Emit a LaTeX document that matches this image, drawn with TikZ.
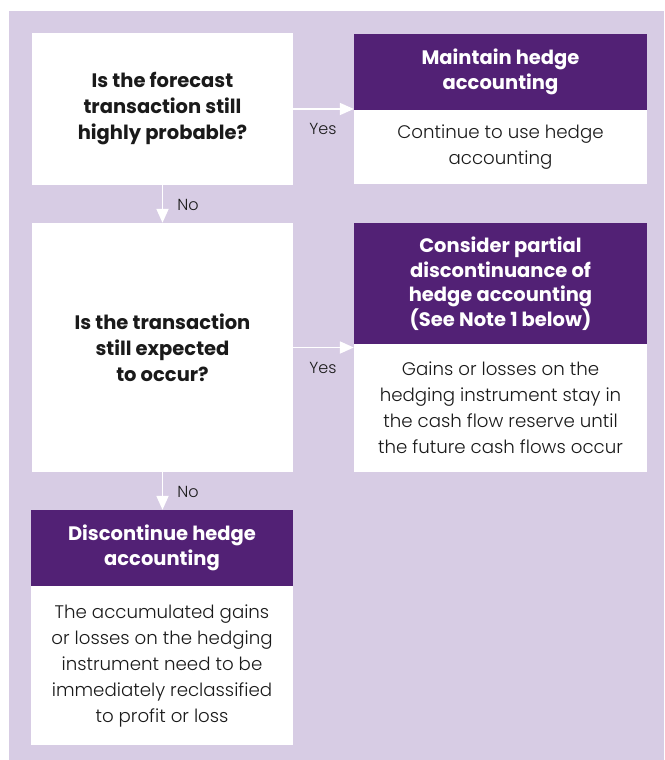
\documentclass[tikz,border=0pt]{standalone}
\usepackage{fontspec}
\setmainfont{Poppins}
\newfontfamily\lightfont{Poppins Light}
\usetikzlibrary{arrows.meta,calc}
\definecolor{lav}{HTML}{D7CCE4}
\definecolor{plum}{HTML}{522175}
\definecolor{ink}{HTML}{1A1A1A}
\tikzset{
  qbox/.style={fill=white,inner sep=0pt,align=center,text=ink,font=\fontsize{19.5}{26}\selectfont\bfseries},
  headbox/.style={fill=plum,inner sep=0pt,align=center,text=white,font=\fontsize{19.5}{24.5}\selectfont\bfseries},
  bodybox/.style={fill=white,inner sep=0pt,align=center,text=ink,font=\lightfont\fontsize{18.2}{26}\selectfont},
  flow/.style={draw=white,line width=1.8pt,-{Triangle[length=14pt,width=12pt]}},
  lbl/.style={text=ink,font=\lightfont\fontsize{16}{18}\selectfont,inner sep=0pt}
}
\begin{document}
\begin{tikzpicture}[x=1pt,y=-1pt]
\useasboundingbox (0,0) rectangle (664,760);
\fill[white] (0,0) rectangle (664,760);
\fill[lav] (9,11) rectangle (664,760);

\node[qbox,minimum width=261pt,minimum height=152pt] (q1) at (162.5,109) {Is the forecast\\transaction still\\highly probable?};
\node[headbox,minimum width=293pt,minimum height=76pt] (h1) at (500.5,72) {Maintain hedge\\accounting};
\node[bodybox,minimum width=293pt,minimum height=74pt] (b1) at (500.5,147) {Continue to use hedge\\accounting};

\node[qbox,minimum width=261pt,minimum height=249pt] (q2) at (162.5,347.5) {Is the transaction\\still expected\\to occur?};
\node[headbox,minimum width=293pt,minimum height=121pt] (h2) at (500.5,283.5) {Consider partial\\discontinuance of\\hedge accounting\\(See Note 1 below)};
\node[bodybox,minimum width=293pt,minimum height=128pt] (b2) at (500.5,408) {Gains or losses on the\\hedging instrument stay in\\the cash flow reserve until\\the future cash flows occur};

\node[headbox,minimum width=262pt,minimum height=76pt] (h3) at (162,548) {Discontinue hedge\\accounting};
\node[bodybox,minimum width=262pt,minimum height=159pt] (b3) at (162,665.5) {The accumulated gains\\or losses on the hedging\\instrument need to be\\immediately reclassified\\to profit or loss};

\draw[flow] (q1.east) -- (q1.east -| h1.west);
\draw[flow] (q2.east) -- (q2.east -| h2.west);
\draw[flow] (q1.south) -- (q2.north);
\draw[flow] (q2.south) -- (q2.south |- h3.north);

\node[lbl] (y1) at (323,129) {Yes};
\node[lbl] (y2) at (323,368) {Yes};
\node[lbl] (n1) at (188,205) {No};
\node[lbl] (n2) at (188,492) {No};
\end{tikzpicture}
\end{document}
